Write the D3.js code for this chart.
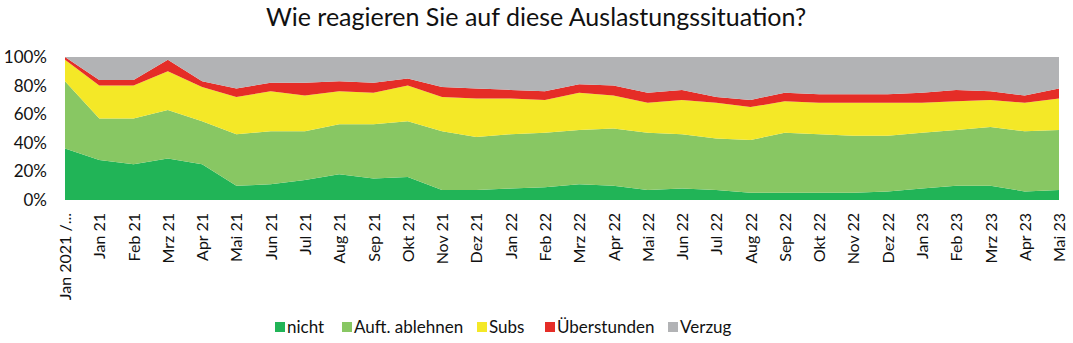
<!DOCTYPE html>
<html>
<head>
<meta charset="utf-8">
<script src="https://cdn.jsdelivr.net/npm/d3@7"></script>
<style>
  body { margin: 0; background: #fff; }
  text { font-family: Lato, "Open Sans", sans-serif; fill: #111; }
</style>
</head>
<body>
<div id="chart"></div>
<script>
// categories (x axis)
const months = ["Jan 2021 /...", "Jan 21", "Feb 21", "Mrz 21", "Apr 21", "Mai 21", "Jun 21", "Jul 21",
  "Aug 21", "Sep 21", "Okt 21", "Nov 21", "Dez 21", "Jan 22", "Feb 22", "Mrz 22", "Apr 22",
  "Mai 22", "Jun 22", "Jul 22", "Aug 22", "Sep 22", "Okt 22", "Nov 22", "Dez 22", "Jan 23",
  "Feb 23", "Mrz 23", "Apr 23", "Mai 23"];

// series values in percent
const nicht = [36, 28, 25, 29, 25, 10, 11, 14, 18, 15, 16, 7, 7, 8, 9, 11, 10, 7, 8, 7, 5, 5, 5, 5, 6, 8, 10, 10, 6, 7];
const auftAblehnen = [47, 29, 32, 34, 30, 36, 37, 34, 35, 38, 39, 41, 37, 38, 38, 38, 40, 40, 38, 36, 37, 42, 41, 40, 39, 39, 39, 41, 42, 42];
const subs = [15, 23, 23, 27, 24, 26, 28, 25, 23, 22, 25, 24, 27, 25, 23, 26, 23, 21, 24, 25, 23, 22, 22, 23, 23, 21, 20, 19, 20, 22];
const ueberstunden = [2, 4, 4, 8, 4, 6, 6, 9, 7, 7, 5, 7, 7, 6, 6, 6, 7, 7, 7, 4, 5, 6, 6, 6, 6, 7, 8, 6, 5, 7];
const verzug = [0, 16, 16, 2, 17, 22, 18, 18, 17, 18, 15, 21, 22, 23, 24, 19, 20, 25, 23, 28, 30, 25, 26, 26, 26, 25, 23, 24, 27, 22];

const seriesNames = ["nicht", "Auft. ablehnen", "Subs", "Überstunden", "Verzug"];
const colors = ["#21b457", "#88c763", "#f4e827", "#e52d27", "#b2b3b5"];
const yTicks = [0, 20, 40, 60, 80, 100];

const width = 1073, height = 343;
const margin = { top: 57, right: 14, bottom: 143, left: 65 };
const innerW = width - margin.left - margin.right;
const innerH = height - margin.top - margin.bottom;

const svg = d3.select("#chart")
  .append("svg")
  .attr("width", width)
  .attr("height", height);

// build rows for the stack
const rows = months.map((m, i) => ({
  month: m,
  "nicht": nicht[i],
  "Auft. ablehnen": auftAblehnen[i],
  "Subs": subs[i],
  "Überstunden": ueberstunden[i],
  "Verzug": verzug[i]
}));

const stacked = d3.stack().keys(seriesNames)(rows);

const x = d3.scalePoint().domain(months).range([0, innerW]);
const y = d3.scaleLinear().domain([0, 100]).range([innerH, 0]);

const g = svg.append("g")
  .attr("transform", `translate(${margin.left},${margin.top})`);

const area = d3.area()
  .x(d => x(d.data.month))
  .y0(d => y(d[0]))
  .y1(d => y(d[1]));

g.selectAll(".layer")
  .data(stacked)
  .enter()
  .append("path")
  .attr("class", "layer")
  .attr("d", area)
  .attr("fill", (d, i) => colors[i]);

// y axis
const yAxis = d3.axisLeft(y).tickValues(yTicks).tickFormat(d => d + "%").tickSize(0).tickPadding(18);
g.append("g")
  .call(yAxis)
  .call(s => s.select(".domain").remove())
  .selectAll("text")
  .style("font-size", "17px")
  .style("font-family", "Lato, sans-serif")
  .attr("fill", "#111");

// x axis
const xAxis = d3.axisBottom(x).tickSize(0).tickPadding(0);
g.append("g")
  .attr("transform", `translate(0,${innerH})`)
  .call(xAxis)
  .call(s => s.select(".domain").remove())
  .selectAll("text")
  .style("font-size", "16px")
  .style("font-family", "Lato, sans-serif")
  .attr("fill", "#111")
  .attr("text-anchor", "end")
  .attr("dy", "0.35em")
  .attr("transform", "translate(0,13) rotate(-90)")
  .attr("x", 0)
  .attr("y", 0);

// title
svg.append("text")
  .attr("x", 536)
  .attr("y", 26)
  .attr("text-anchor", "middle")
  .style("font-size", "25px")
  .text("Wie reagieren Sie auf diese Auslastungssituation?");

// legend
const legendX = [275, 342, 477, 545, 668];
const legend = svg.append("g").attr("transform", "translate(0,327)");
seriesNames.forEach((name, i) => {
  legend.append("rect")
    .attr("x", legendX[i])
    .attr("y", -5)
    .attr("width", 10)
    .attr("height", 10)
    .attr("fill", colors[i]);
  legend.append("text")
    .attr("x", legendX[i] + 12)
    .attr("y", 0)
    .attr("dy", "0.35em")
    .style("font-size", "17px")
    .text(name);
});
</script>
</body>
</html>
